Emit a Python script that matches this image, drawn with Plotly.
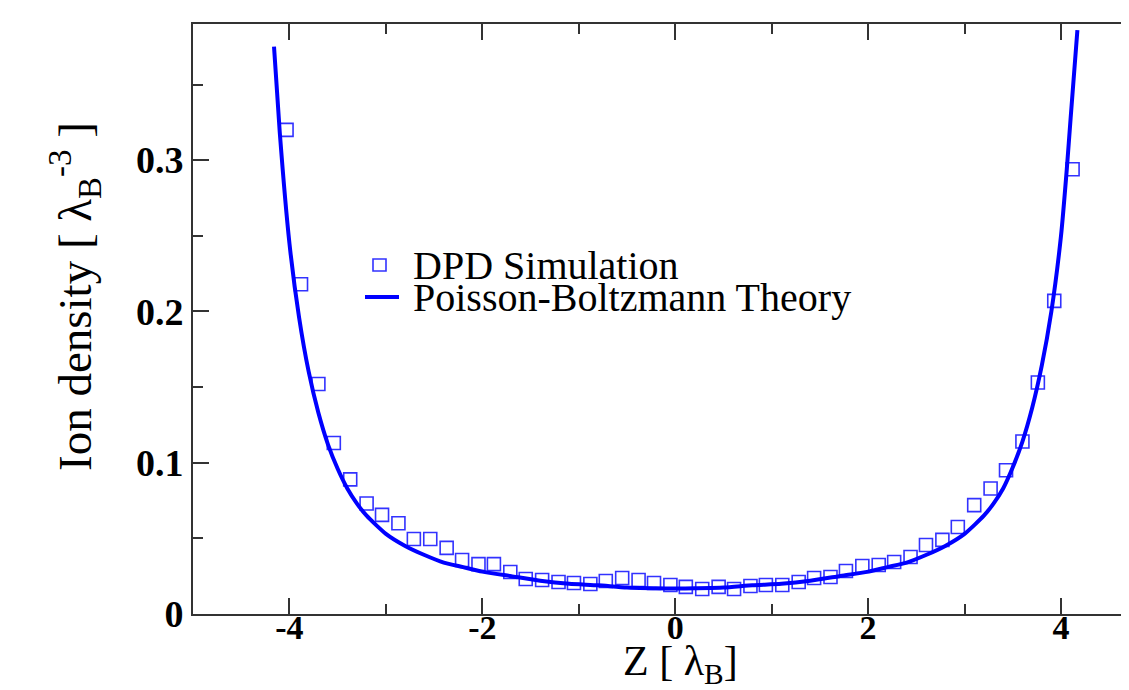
import plotly.graph_objects as go

# DPD simulation points
sim_z = [-4.03, -3.88, -3.70, -3.54, -3.37, -3.20, -3.04, -2.87, -2.71, -2.54,
         -2.37, -2.21, -2.04, -1.88, -1.71, -1.55, -1.38, -1.21, -1.05, -0.88,
         -0.72, -0.55, -0.38, -0.22, -0.05, 0.11, 0.28, 0.45, 0.61, 0.78,
         0.94, 1.11, 1.28, 1.44, 1.61, 1.77, 1.94, 2.11, 2.27, 2.44,
         2.60, 2.77, 2.93, 3.10, 3.27, 3.43, 3.60, 3.76, 3.93, 4.12]
sim_rho = [0.320, 0.218, 0.152, 0.113, 0.089, 0.073, 0.0655, 0.060, 0.0496, 0.0496,
           0.0437, 0.0357, 0.033, 0.033, 0.0278, 0.0231, 0.0225, 0.0212, 0.0205, 0.0198,
           0.0218, 0.0238, 0.0225, 0.0205, 0.0192, 0.0179, 0.0165, 0.0179, 0.0165, 0.0185,
           0.0192, 0.0192, 0.0212, 0.0238, 0.0245, 0.0284, 0.0317, 0.0324, 0.0344, 0.0377,
           0.0456, 0.049, 0.0575, 0.072, 0.083, 0.095, 0.114, 0.153, 0.207, 0.294]

# Poisson-Boltzmann theory curve
pb_z = [-4.16, -4.10, -4.0, -3.9, -3.8, -3.7, -3.6, -3.5, -3.4, -3.3, -3.2, -3.0,
        -2.8, -2.6, -2.4, -2.2, -2.0, -1.7, -1.4, -1.1, -0.8, -0.5, -0.2, 0.0,
        0.2, 0.5, 0.8, 1.1, 1.4, 1.7, 2.0, 2.2, 2.4, 2.6, 2.8, 3.0, 3.2, 3.3,
        3.4, 3.5, 3.6, 3.7, 3.8, 3.9, 4.0, 4.06, 4.1, 4.17]
pb_rho = [0.375, 0.318, 0.245, 0.196, 0.160, 0.133, 0.112, 0.096, 0.083, 0.073, 0.065, 0.053,
          0.045, 0.039, 0.034, 0.031, 0.028, 0.025, 0.022, 0.020, 0.019, 0.0175, 0.017, 0.0168,
          0.017, 0.0175, 0.019, 0.020, 0.022, 0.025, 0.028, 0.031, 0.034, 0.039, 0.045, 0.053, 0.065, 0.073,
          0.083, 0.097, 0.114, 0.136, 0.164, 0.200, 0.250, 0.294, 0.328, 0.386]

x_ticks = [-4, -2, 0, 2, 4]
y_ticks = [0, 0.1, 0.2, 0.3]
y_tick_text = ["0", "0.1", "0.2", "0.3"]
legend_labels = ["DPD Simulation", "Poisson-Boltzmann Theory"]

W, H = 1129, 690
OFF = 8  # page body margin
L, R, T, B = 193 - OFF, OFF, 24 - OFF, 690 - 614 + OFF

SERIF = "Liberation Serif"
SIM_COL = "rgb(50,50,255)"
PB_COL = "#0000ff"

fig = go.Figure()
fig.add_trace(go.Scatter(
    x=sim_z, y=sim_rho, mode="markers", name=legend_labels[0],
    marker=dict(symbol="square-open", size=13, color=SIM_COL,
                line=dict(width=1.6, color=SIM_COL)),
    showlegend=False))
fig.add_trace(go.Scatter(
    x=pb_z, y=pb_rho, mode="lines", name=legend_labels[1],
    line=dict(color=PB_COL, width=4, shape="spline", smoothing=0.6),
    showlegend=False))

axis_col = "#333333"
fig.update_xaxes(range=[-5, 4.705], tickmode="array", tickvals=x_ticks,
                 ticktext=[str(v) for v in x_ticks],
                 ticks="inside", ticklen=16, tickwidth=1.6, tickcolor=axis_col,
                 minor=dict(dtick=1, tick0=0, ticks="inside", ticklen=10, tickwidth=1.6, tickcolor=axis_col),
                 showline=True, linecolor=axis_col, linewidth=2, mirror="ticks",
                 showgrid=False, zeroline=False, automargin=False,
                 ticklabelstandoff=-18,
                 tickfont=dict(family=SERIF, size=34, color="black", weight="bold"))
fig.update_yaxes(range=[0, 0.39], tickmode="array", tickvals=y_ticks, ticktext=y_tick_text,
                 ticks="inside", ticklen=16, tickwidth=1.6, tickcolor=axis_col,
                 minor=dict(dtick=0.05, tick0=0, ticks="inside", ticklen=10, tickwidth=1.6, tickcolor=axis_col),
                 showline=True, linecolor=axis_col, linewidth=2, mirror=False,
                 showgrid=False, zeroline=False, automargin=False,
                 tickfont=dict(family=SERIF, size=38, color="black", weight="bold"))

pw = W - L - R
ph = H - T - B
def px(xp):
    return (xp - OFF - L) / pw
def py(yp):
    return (H - B - (yp - OFF)) / ph

legend_font = dict(family=SERIF, size=40, color="black")
fig.update_layout(
    width=W, height=H,
    margin=dict(l=L, r=R, t=T, b=B, pad=0),
    font=dict(family=SERIF, color="black"),
    paper_bgcolor="white", plot_bgcolor="white",
    showlegend=False,
    shapes=[
        # legend symbols
        dict(type="rect", xref="paper", yref="paper",
             x0=px(373), x1=px(386), y0=py(271), y1=py(259),
             line=dict(color=SIM_COL, width=1.6), fillcolor="rgba(0,0,0,0)"),
        dict(type="line", xref="paper", yref="paper",
             x0=px(365), x1=px(399), y0=py(297), y1=py(297),
             line=dict(color=PB_COL, width=4)),
    ],
    annotations=[
        dict(text=legend_labels[0], xref="paper", yref="paper",
             x=px(411), y=py(265), xanchor="left", yanchor="middle", showarrow=False,
             font=legend_font),
        dict(text=legend_labels[1], xref="paper", yref="paper",
             x=px(411), y=py(297), xanchor="left", yanchor="middle", showarrow=False,
             font=legend_font),
        dict(text="Z [ λ<sub>B</sub>]", xref="paper", yref="paper",
             x=px(680), y=py(664), xanchor="center", yanchor="middle", showarrow=False,
             font=dict(family=SERIF, size=42, color="black")),
        dict(text="Ion density [ λ<sub>B</sub><sup>-3</sup> ]", xref="paper", yref="paper",
             x=px(75), y=py(297), xanchor="center", yanchor="middle", showarrow=False,
             textangle=-90,
             font=dict(family=SERIF, size=47, color="black")),
    ],
)

fig.write_html("out.html")
